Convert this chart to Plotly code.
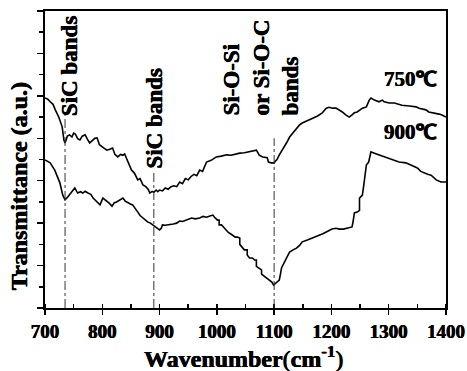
import plotly.graph_objects as go

# ---- data ----
wn_750 = [700, 705, 709, 714, 718, 724, 730, 733, 735, 739, 743, 747, 750, 753, 757, 761, 765, 770, 774, 778,
          783, 787, 791, 795, 800, 805, 808, 813, 818, 822, 827, 832, 836, 839, 845, 851, 856, 862, 866, 871,
          876, 880, 883, 887, 890, 894, 897, 900, 905, 910, 915, 920, 925, 930, 935, 940, 945, 950, 955, 960,
          965, 970, 975, 982, 990, 999, 1008, 1017, 1025, 1032, 1040, 1048, 1057, 1062, 1069, 1074, 1080, 1088,
          1090, 1095, 1100, 1102, 1105, 1109, 1113, 1118, 1122, 1127, 1132, 1139, 1144, 1149, 1155, 1161, 1167,
          1175, 1184, 1188, 1191, 1196, 1202, 1208, 1214, 1219, 1225, 1231, 1236, 1240, 1245, 1249, 1254, 1261,
          1266, 1269, 1275, 1283, 1289, 1292, 1301, 1310, 1318, 1323, 1336, 1348, 1353, 1365, 1370, 1380, 1388,
          1393, 1400]
t_750 = [4.95, 4.92, 4.86, 4.80, 4.67, 4.50, 4.27, 3.96, 3.89, 4.05, 4.08, 4.03, 4.12, 4.10, 3.99, 3.96, 4.05,
         4.08, 3.98, 3.89, 3.95, 4.00, 4.01, 3.85, 3.80, 3.76, 3.72, 3.74, 3.77, 3.62, 3.56, 3.62, 3.60, 3.63,
         3.45, 3.25, 3.18, 3.02, 3.05, 2.90, 2.86, 2.80, 2.71, 2.75, 2.73, 2.78, 2.74, 2.78, 2.76, 2.83, 2.80,
         2.86, 2.88, 2.86, 2.97, 2.93, 3.05, 3.02, 3.10, 3.15, 3.12, 3.25, 3.22, 3.44, 3.48, 3.56, 3.58, 3.61,
         3.60, 3.63, 3.65, 3.66, 3.68, 3.70, 3.72, 3.60, 3.56, 3.54, 3.44, 3.42, 3.42, 3.46, 3.50, 3.61, 3.70,
         3.79, 3.90, 4.03, 4.12, 4.22, 4.31, 4.36, 4.40, 4.43, 4.48, 4.52, 4.60, 4.67, 4.71, 4.73, 4.71, 4.71,
         4.67, 4.62, 4.55, 4.50, 4.55, 4.60, 4.62, 4.67, 4.71, 4.74, 4.90, 4.95, 4.90, 4.86, 4.90, 4.86, 4.83,
         4.83, 4.80, 4.78, 4.76, 4.74, 4.71, 4.67, 4.62, 4.60, 4.57, 4.55, 4.50]

wn_900 = [700, 709, 717, 726, 731, 735, 740, 745, 749, 752, 757, 762, 766, 770, 775, 780, 784, 790, 796, 801,
          805, 808, 812, 817, 821, 825, 830, 836, 840, 845, 849, 853, 858, 862, 866, 871, 875, 879, 884, 888,
          893, 900, 903, 905, 910, 918, 924, 930, 935, 940, 948, 956, 962, 970, 976, 982, 988, 993, 996, 1001,
          1004, 1004, 1008, 1012, 1017, 1020, 1027, 1032, 1036, 1040, 1040, 1044, 1048, 1053, 1053, 1057, 1062,
          1066, 1069, 1069, 1074, 1078, 1078, 1082, 1086, 1088, 1092, 1096, 1099, 1103, 1106, 1109, 1111, 1113,
          1118, 1122, 1127, 1133, 1139, 1144, 1149, 1158, 1167, 1172, 1179, 1185, 1191, 1196, 1201, 1208, 1214,
          1221, 1228, 1236, 1238, 1240, 1245, 1249, 1249, 1254, 1256, 1258, 1261, 1265, 1269, 1275, 1283, 1290,
          1296, 1306, 1318, 1330, 1341, 1350, 1356, 1362, 1368, 1374, 1383, 1391, 1400]
t_900 = [3.49, 3.42, 3.25, 2.95, 2.66, 2.55, 2.62, 2.70, 2.78, 2.83, 2.71, 2.74, 2.71, 2.75, 2.71, 2.68, 2.59,
         2.52, 2.43, 2.59, 2.55, 2.50, 2.47, 2.40, 2.48, 2.50, 2.55, 2.59, 2.52, 2.47, 2.45, 2.43, 2.35, 2.26,
         2.18, 2.12, 2.08, 2.03, 2.00, 1.96, 1.92, 1.84, 1.88, 1.96, 1.95, 1.96, 1.98, 2.00, 2.05, 2.04, 2.08,
         2.12, 2.10, 2.12, 2.16, 2.14, 2.17, 2.19, 2.14, 2.07, 2.07, 1.96, 1.96, 1.90, 1.84, 1.78, 1.72, 1.67,
         1.67, 1.65, 1.50, 1.44, 1.37, 1.37, 1.25, 1.18, 1.18, 1.13, 1.13, 0.98, 0.94, 0.90, 0.80, 0.76, 0.71,
         0.71, 0.66, 0.61, 0.54, 0.58, 0.61, 0.66, 0.80, 0.95, 1.08, 1.18, 1.32, 1.37, 1.41, 1.47, 1.56, 1.60,
         1.65, 1.67, 1.70, 1.75, 1.79, 1.82, 1.86, 1.88, 1.86, 1.86, 1.89, 1.91, 2.05, 2.24, 2.26, 2.30, 2.59,
         2.66, 2.85, 3.10, 3.37, 3.44, 3.68, 3.65, 3.61, 3.57, 3.54, 3.49, 3.44, 3.42, 3.35, 3.30, 3.22, 3.18,
         3.15, 3.13, 3.02, 2.97, 2.97]

band_pos = [735, 890, 1100]
band_top = [4.55, 3.25, 4.0]
x_ticks = [700, 800, 900, 1000, 1100, 1200, 1300, 1400]

FONT = "Liberation Serif"
SHADOW = "0.35px 0 0 black, -0.35px 0 0 black"

fig = go.Figure()
fig.add_trace(go.Scatter(x=wn_750, y=t_750, mode="lines", line=dict(color="black", width=1.6),
                         showlegend=False, hoverinfo="skip"))
fig.add_trace(go.Scatter(x=wn_900, y=t_900, mode="lines", line=dict(color="black", width=1.6),
                         showlegend=False, hoverinfo="skip"))

for xp, yt in zip(band_pos, band_top):
    fig.add_shape(type="line", x0=xp, x1=xp, y0=0, y1=yt, xref="x", yref="y",
                  line=dict(color="#333333", width=1, dash="dashdot"))

ann_font = dict(family=FONT, size=23, color="black", shadow=SHADOW)
fig.add_annotation(x=744, y=4.48, text="<b>SiC bands</b>", textangle=-90, showarrow=False,
                   xanchor="center", yanchor="bottom", font=ann_font)
fig.add_annotation(x=891, y=3.25, text="<b>SiC bands</b>", textangle=-90, showarrow=False,
                   xanchor="center", yanchor="bottom", font=ann_font)
fig.add_annotation(x=1078, y=4.48, text="<b>Si-O-Si<br>or Si-O-C<br>bands</b>", textangle=-90, showarrow=False,
                   xanchor="center", yanchor="bottom", align="left", font=ann_font)
lab_font = dict(family=FONT, size=21, color="black", shadow=SHADOW)
fig.add_annotation(x=1338, y=5.4, text="<b>750℃</b>", showarrow=False, xanchor="center", yanchor="middle", font=lab_font)
fig.add_annotation(x=1338, y=4.15, text="<b>900℃</b>", showarrow=False, xanchor="center", yanchor="middle", font=lab_font)

title_font = dict(family=FONT, size=24, color="black", shadow=SHADOW)
fig.add_annotation(xref="paper", yref="paper", x=-0.065, y=0.41, text="<b>Transmittance (a.u.)</b>", textangle=-90,
                   showarrow=False, xanchor="center", yanchor="middle", font=title_font)
fig.add_annotation(xref="paper", yref="paper", x=0.494, y=-0.165,
                   text="<b>Wavenumber</b>(<b>cm<sup>-1</sup></b>)",
                   showarrow=False, xanchor="center", yanchor="middle", font=title_font)

fig.update_xaxes(range=[700, 1400], tickvals=x_ticks, ticktext=["<b>%d</b>" % v for v in x_ticks],
                 automargin=False,
                 showline=True, linecolor="black", linewidth=2, mirror=True,
                 ticks="outside", ticklen=5, tickwidth=1.5, tickcolor="black",
                 minor=dict(dtick=50, ticks="inside", ticklen=4, tickwidth=1.5, tickcolor="black"),
                 showgrid=False, zeroline=False,
                 tickfont=dict(family=FONT, size=19, color="black", shadow=SHADOW))
fig.update_yaxes(range=[0, 7], dtick=1, showticklabels=False, automargin=False,
                 showline=True, linecolor="black", linewidth=2, mirror=True,
                 ticks="outside", ticklen=6, tickwidth=1.5, tickcolor="black",
                 minor=dict(dtick=0.5, ticks="outside", ticklen=4, tickwidth=1.5, tickcolor="black"),
                 showgrid=False, zeroline=False)

fig.update_layout(width=467, height=371, margin=dict(l=45, r=21, t=11, b=63),
                  plot_bgcolor="white", paper_bgcolor="white", showlegend=False)

fig.write_html("out.html", config={"displayModeBar": False, "staticPlot": True},
               post_script="document.body.style.margin='0';document.body.style.overflow='hidden';")
